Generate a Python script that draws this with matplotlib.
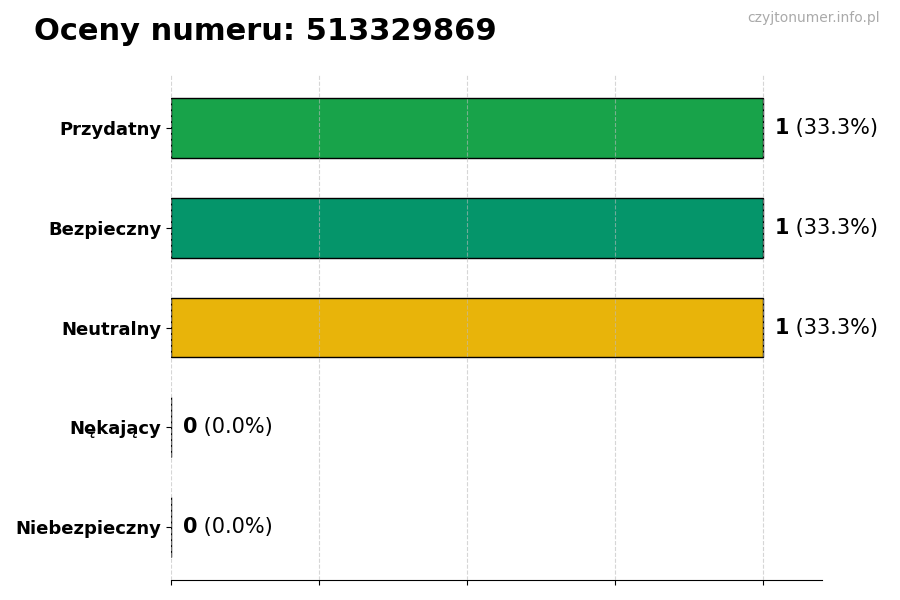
import matplotlib
matplotlib.use("Agg")
import matplotlib.pyplot as plt

categories = ["Przydatny", "Bezpieczny", "Neutralny", "Nękający", "Niebezpieczny"]
counts = [1, 1, 1, 0, 0]
colors = ["#18a34a", "#05956a", "#e8b40a", "#e25822", "#c0392b"]
phone = "513329869"

total = sum(counts)
y = list(range(len(categories)))[::-1]

fig = plt.figure(figsize=(9, 6), dpi=100)
ax = fig.add_axes([0.19, 0.0333, 0.7233, 0.8417])

ax.barh(y, counts, height=0.6, color=colors, edgecolor="black", linewidth=1, zorder=2)
ax.set_xlim(0, max(counts) * 1.1)
ax.set_xticks([0, 0.25, 0.5, 0.75, 1.0])
ax.set_xticklabels([])
ax.set_yticks(y)
ax.set_yticklabels(categories, fontsize=13, fontweight="bold")
ax.set_axisbelow(False)
ax.grid(axis="x", linestyle="--", color="#bbbbbb", alpha=0.6, linewidth=0.8, zorder=3)
for s in ["top", "right", "left"]:
    ax.spines[s].set_visible(False)

for yi, c in zip(y, counts):
    pct = c / total * 100
    x0 = c + 0.02
    t = ax.text(x0, yi, str(c), fontsize=15, fontweight="bold", va="center", ha="left")
    fig.canvas.draw()
    bb = t.get_window_extent()
    inv = ax.transData.inverted()
    x1 = inv.transform((bb.x1, 0))[0]
    ax.text(x1, yi, " (%.1f%%)" % pct, fontsize=15, va="center", ha="left")

fig.text(0.038, 0.948, "Oceny numeru: " + phone, fontsize=22, fontweight="bold", va="center")
fig.text(0.978, 0.97, "czyjtonumer.info.pl", fontsize=10, color="#aaaaaa", ha="right", va="center")

fig.savefig("out.png", dpi=100)
